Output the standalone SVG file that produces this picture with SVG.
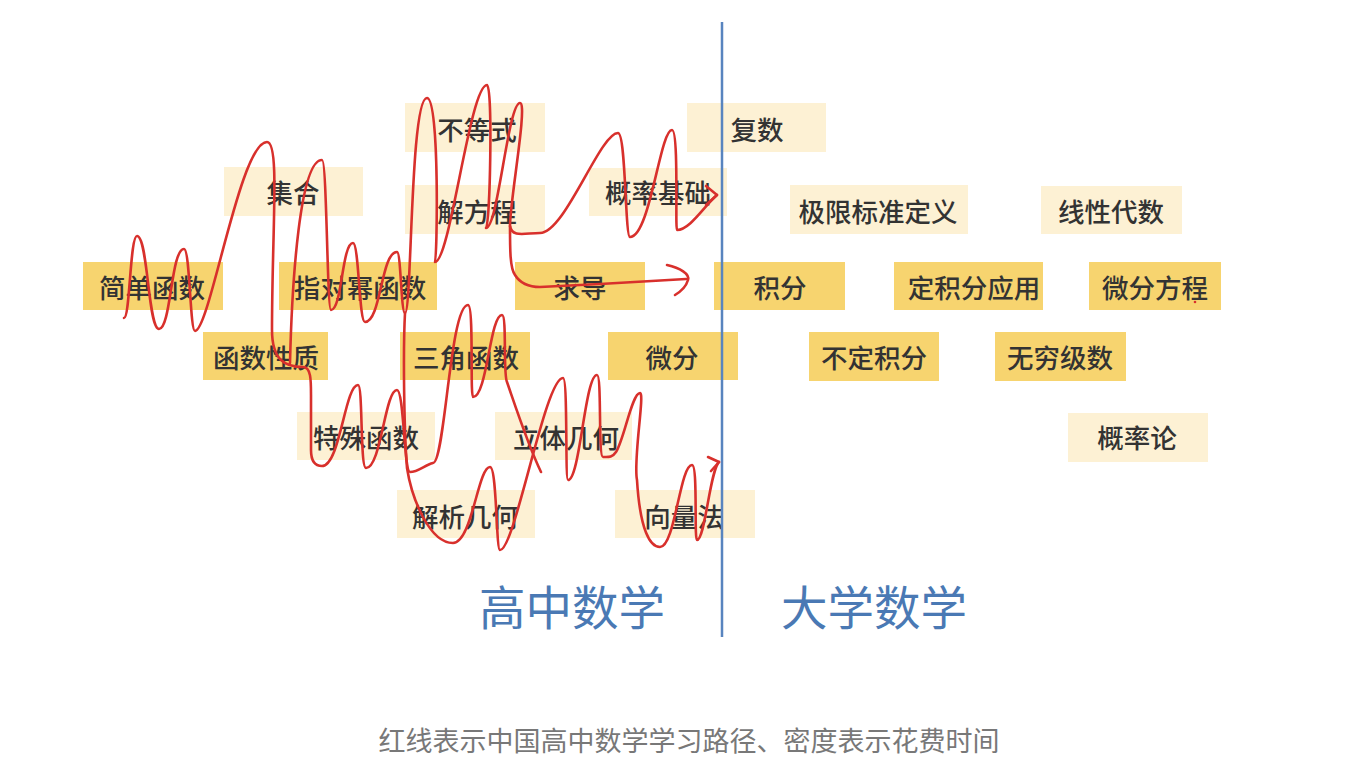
<svg xmlns="http://www.w3.org/2000/svg" width="1368" height="780" viewBox="0 0 1368 780">
<style>
.dk{fill:#f7d46f}
.lt{fill:#fdf1d4}
.t{font-family:"Noto Sans CJK SC","Noto Sans",sans-serif;font-size:26.5px;font-weight:500;fill:#333333;text-anchor:middle;dominant-baseline:central}
.big{font-family:"Noto Sans CJK SC","Noto Sans",sans-serif;font-size:46.5px;fill:#4a79b4;text-anchor:middle}
.cap{font-family:"Noto Sans CJK SC","Noto Sans",sans-serif;font-size:27px;fill:#787878;text-anchor:middle}
.red{fill:none;stroke:#d8302c;stroke-width:2.6;stroke-linecap:round;stroke-linejoin:round}
</style>
<rect width="1368" height="780" fill="#ffffff"/>
<g id="n-budengshi"><rect class="lt" x="405" y="103" width="140" height="49"/><text class="t" x="477" y="128">不等式</text></g>
<g id="n-fushu"><rect class="lt" x="687" y="103" width="139" height="49"/><text class="t" x="757" y="128">复数</text></g>
<g id="n-jihe"><rect class="lt" x="224" y="167" width="139" height="49"/><text class="t" x="293" y="191">集合</text></g>
<g id="n-jiefangcheng"><rect class="lt" x="405" y="185" width="140" height="49"/><text class="t" x="477" y="210">解方程</text></g>
<g id="n-gailvjichu"><rect class="lt" x="589" y="168" width="138" height="48"/><text class="t" x="658" y="191">概率基础</text></g>
<g id="n-jixian"><rect class="lt" x="790" y="185" width="178" height="49"/><text class="t" x="878" y="210">极限标准定义</text></g>
<g id="n-xianxingdaishu"><rect class="lt" x="1041" y="186" width="141" height="48"/><text class="t" x="1111" y="210">线性代数</text></g>
<g id="n-jiandanhanshu"><rect class="dk" x="83" y="262" width="140" height="48"/><text class="t" x="152" y="286">简单函数</text></g>
<g id="n-zhiduimi"><rect class="dk" x="279" y="262" width="158" height="48"/><text class="t" x="360" y="286">指对幂函数</text></g>
<g id="n-qiudao"><rect class="dk" x="515" y="262" width="130" height="48"/><text class="t" x="580" y="286">求导</text></g>
<g id="n-jifen"><rect class="dk" x="714" y="262" width="131" height="48"/><text class="t" x="780" y="286">积分</text></g>
<g id="n-dingjifen"><rect class="dk" x="894" y="262" width="149" height="48"/><text class="t" x="974" y="286">定积分应用</text></g>
<g id="n-weifenfangcheng"><rect class="dk" x="1089" y="262" width="132" height="48"/><text class="t" x="1155" y="286">微分方程</text></g>
<g id="n-hanshuxingzhi"><rect class="dk" x="203" y="332" width="125" height="48"/><text class="t" x="266" y="356">函数性质</text></g>
<g id="n-sanjiao"><rect class="dk" x="400" y="332" width="130" height="48"/><text class="t" x="466" y="356">三角函数</text></g>
<g id="n-weifen"><rect class="dk" x="608" y="332" width="130" height="48"/><text class="t" x="672" y="356">微分</text></g>
<g id="n-budingjifen"><rect class="dk" x="809" y="332" width="130" height="49"/><text class="t" x="874" y="356">不定积分</text></g>
<g id="n-wuqiong"><rect class="dk" x="995" y="332" width="131" height="49"/><text class="t" x="1060" y="356">无穷级数</text></g>
<g id="n-teshu"><rect class="lt" x="297" y="412" width="138" height="48"/><text class="t" x="366" y="436">特殊函数</text></g>
<g id="n-liti"><rect class="lt" x="495" y="412" width="137" height="48"/><text class="t" x="566" y="436">立体几何</text></g>
<g id="n-gailvlun"><rect class="lt" x="1068" y="413" width="140" height="49"/><text class="t" x="1137" y="436">概率论</text></g>
<g id="n-jiexi"><rect class="lt" x="397" y="490" width="138" height="48"/><text class="t" x="465" y="515">解析几何</text></g>
<g id="n-xiangliang"><rect class="lt" x="615" y="490" width="140" height="48"/><text class="t" x="684" y="515">向量法</text></g>
<g id="connectors">
<line x1="722" y1="22" x2="722" y2="637" stroke="#5884bf" stroke-width="2.5"/>
<path class="red" d="M124,318 C130,318 130,236 137,236 C148,236 148,329 159,329 C171,329 171,249 184,249 C190,249 190,331 195,331 C210,330 240,142 267,142 C280,142 272,230 272,330 C272,360 285,367 303,367 C311,367 311,380 311,395 L311,450 C311,462 316,466 322,466 C340,466 345,385 358,385 C363,385 360,468 366,468 C381,468 385,390 397,390 C404,390 404,472 410,472 C418,472 425,465 433,463 C445,463 450,305 468,305 C474,305 470,397 473,397 C487,397 490,315 502,315 C507,315 503,375 507,382 C515,405 528,445 541,472"/>
<path class="red" d="M290,363 C292,280 300,160 322,160 C327,160 327,310 331,310 C342,310 342,243 353,243 C359,243 359,322 365,322 C381,322 381,252 397,252 C401,252 401,313 405,313 C412,313 410,98 427,98 C440,98 437,262 435,262 C450,262 470,85 487,85 C493,85 490,228 486,228 C498,228 508,103 520,103 C528,103 510,200 510,226 C512,238 525,233 540,233 C565,233 600,133 618,133 C626,133 625,237 630,237 C650,237 660,130 672,130 C679,130 675,230 677,230 C690,230 705,205 717,195"/>
<path class="red" d="M706,186 L717,195 L706,205"/>
<path class="red" d="M510,226 C510,250 510,268 515,275 C520,283 527,287 540,287 L600,284 L686,279"/>
<path class="red" d="M667,265 C680,268 690,274 688,280 C686,287 680,292 675,295"/>
<path class="red" d="M405,313 C403,350 404,430 407,468 C412,500 430,543 453,543 C472,543 478,467 490,467 C497,467 496,550 500,550 C515,550 545,378 563,378 C568,378 565,480 568,480 C580,480 585,375 597,375 C602,375 598,457 603,457 C608,457 612,458 616,452 C624,440 632,393 640,393 C645,393 633,460 637,480 C640,530 650,547 660,547 C675,547 680,465 692,465 C698,465 694,540 697,540 C705,540 710,470 719,462"/>
<path class="red" d="M708,457 L719,462 L711,471"/>
<circle cx="1195" cy="302" r="1.3" fill="#d8302c"/>
</g>
<text class="big" x="572" y="625">高中数学</text>
<text class="big" x="874" y="625">大学数学</text>
<text class="cap" x="689" y="751">红线表示中国高中数学学习路径、密度表示花费时间</text>
</svg>
